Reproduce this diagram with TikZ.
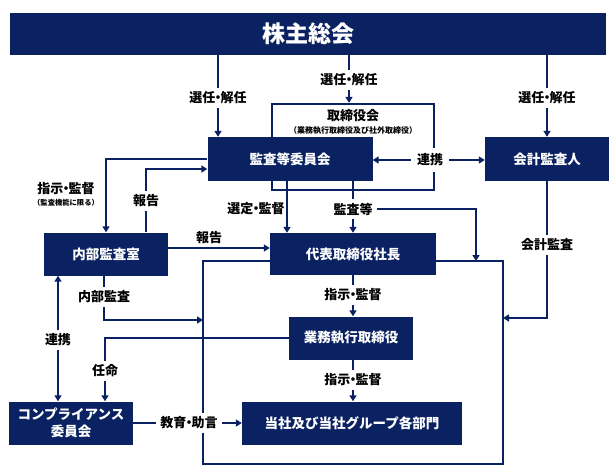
\documentclass[tikz,border=0pt]{standalone}
\usepackage{fontspec}
\setmainfont{Noto Sans CJK JP}
\usetikzlibrary{arrows.meta}
\definecolor{navy}{HTML}{0B2262}
\newcommand{\nakaguro}{\makebox[0.4em]{・}}

\begin{document}
\begin{tikzpicture}[x=1pt, y=-1pt,
    box/.style={fill=navy, text=white, font=\bfseries\fontsize{13.5}{17}\selectfont, minimum height=43, inner sep=0pt, align=center},
    lbl/.style={fill=white, font=\bfseries\fontsize{13}{15}\selectfont, inner sep=4pt},
    note/.style={font=\bfseries\fontsize{7.3}{9}\selectfont, inner sep=0pt},
    wire/.style={draw=navy, line width=2.3pt},
    conn/.style={wire, -{Triangle[length=6pt, width=7pt]}}]
    \useasboundingbox (0,0) rectangle (616,475);

    \node[box, minimum width=596, minimum height=42, font=\bfseries\fontsize{23}{27}\selectfont] (kabu) at (308,34) {株主総会};
    \node[wire, minimum width=162, minimum height=86, inner sep=0pt] (board) at (353,147) {};
    \node[font=\bfseries\fontsize{13}{15}\selectfont] (boardname) at (353,116) {取締役会};
    \node[note, font=\bfseries\fontsize{8}{10}\selectfont] (boardnote) at (353,131) {（業務執行取締役及び社外取締役）};

    \node[box, minimum width=165, minimum height=44] (kansa) at (290,159) {監査等委員会};
    \node[box, minimum width=124, minimum height=44] (kaikei) at (547,159) {会計監査人};
    \node[box, minimum width=124] (naibu) at (106,254) {内部監査室};
    \node[box, minimum width=166, minimum height=42] (shacho) at (353,254) {代表取締役社長};
    \node[box, minimum width=124] (gyomu) at (351,338) {業務執行取締役};
    \node[box, minimum width=220] (bumon) at (352,423) {当社及び当社グループ各部門};
    \node[box, minimum width=124] (comp) at (71,423) {コンプライアンス\\委員会};

    \coordinate (frameSE) at (503,464);
    \coordinate (frameSW) at (203,464);
    \coordinate (frameN) at (476,261);
    \coordinate (frameE) at (503,318);
    \coordinate (frameW) at (203,320);
    \draw[wire] ([yshift=-7pt]shacho.east) -| (frameSE) -- (frameSW) |- ([yshift=-7pt]shacho.west);

    \node[lbl] (sel1) at (218,98) {選任\nakaguro 解任};
    \node[lbl] (sel2) at (349,80) {選任\nakaguro 解任};
    \node[lbl] (sel3) at (547,98) {選任\nakaguro 解任};
    \node[lbl, inner sep=6pt] (renkei1) at (430,160) {連携};
    \node[lbl] (shiji1) at (66,189) {指示\nakaguro 監督};
    \node[note] (shiji1note) at (66,203) {（監査機能に限る）};
    \node[lbl] (hokoku1) at (146,201) {報告};
    \node[lbl] (hokoku2) at (209,238) {報告};
    \node[lbl] (sentei) at (256,209) {選定\nakaguro 監督};
    \node[lbl] (kansato) at (353,209) {監査等};
    \node[lbl] (kaikeikansa) at (547,245) {会計監査};
    \node[lbl] (shiji2) at (353,295) {指示\nakaguro 監督};
    \node[lbl] (shiji3) at (353,380) {指示\nakaguro 監督};
    \node[lbl] (naibukansa) at (104,297) {内部監査};
    \node[lbl] (renkei2) at (58,340) {連携};
    \node[lbl] (ninmei) at (105,371) {任命};
    \node[lbl] (kyoiku) at (189,423) {教育\nakaguro 助言};

    \draw[conn] (kabu.south -| sel1) -- (sel1) -- (kansa.north -| sel1);
    \draw[conn] (kabu.south -| sel2) -- (sel2) -- (board.north -| sel2);
    \draw[conn] (kabu.south -| sel3) -- (sel3) -- (kaikei.north -| sel3);
    \draw[conn] (renkei1) -- (kansa.east |- renkei1);
    \draw[conn] (renkei1) -- (kaikei.west |- renkei1);
    \draw[conn] (kansa.west) -| (naibu.north);
    \draw[conn] ([xshift=40pt]naibu.north) -- (hokoku1) |- ([yshift=-10pt]kansa.west);
    \draw[conn] ([yshift=6pt]naibu.east) -- ([yshift=6pt]shacho.west);
    \draw[conn] ([xshift=-3pt]kansa.south) -- ([xshift=-3pt]kansa.south |- shacho.north);
    \draw[conn] (kansa.south -| kansato) -- (kansato) -- (shacho.north);
    \draw[conn] (kansato) -| (frameN);
    \draw[conn] (kaikei.south) -- (kaikeikansa) |- (frameE);
    \draw[conn] (shacho.south) -- (shiji2) -- (gyomu.north -| shiji2);
    \draw[conn] (gyomu.south -| shiji3) -- (shiji3) -- (bumon.north -| shiji3);
    \draw[conn] ([xshift=-2pt]naibu.south) -- (naibukansa) |- (frameW);
    \draw[conn] (renkei2) -- (naibu.south -| renkei2);
    \draw[conn] (renkei2) -- (comp.north -| renkei2);
    \draw[conn] (gyomu.west) -| (ninmei) -- (comp.north -| ninmei);
    \draw[conn] (comp.east) -- (kyoiku) -- (bumon.west);
\end{tikzpicture}
\end{document}
